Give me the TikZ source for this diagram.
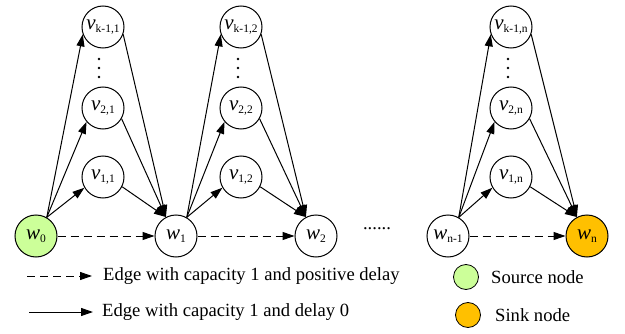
\documentclass[tikz,border=0pt]{standalone}
\usepackage{fontspec}
\setmainfont{Liberation Serif}
\usetikzlibrary{arrows.meta}
\newcommand{\nlab}[2]{{\fontsize{21}{22}\selectfont\textit{#1}}\raisebox{-3.5pt}{\fontsize{11.5}{12}\selectfont #2}}
\tikzset{
  vertex/.style={circle,draw,line width=1pt,minimum size=42pt,inner sep=0pt},
  keynode/.style={circle,draw,line width=0.8pt,minimum size=25pt,inner sep=0pt},
  keytext/.style={anchor=west,inner sep=0pt,font=\fontsize{18.6}{20}\selectfont},
  arc/.style={line width=1pt,-{Triangle[length=12pt,width=8pt]}},
  delayarc/.style={arc,dash pattern=on 8pt off 5pt},
}
\begin{document}
\begin{tikzpicture}[x=1pt,y=1pt]
\definecolor{fillColor}{RGB}{255,255,255}
\definecolor{srcColor}{RGB}{204,255,153}
\definecolor{sinkColor}{RGB}{255,192,0}
\path[use as bounding box,fill=fillColor] (0,0) rectangle (625,333);

% bottom row
\node[vertex,fill=srcColor] (w0) at (36,97) {\nlab{w}{0}};
\node[vertex] (w1) at (176,97) {\nlab{w}{1}};
\node[vertex] (w2) at (316,97) {\nlab{w}{2}};
\node[vertex] (wn1) at (448,97) {\nlab{w}{n-1}};
\node[vertex,fill=sinkColor] (wn) at (587,97) {\nlab{w}{n}};
\node[anchor=base,inner sep=0pt,font=\fontsize{18.6}{20}\selectfont] (gap) at (377,104) {......};

% first column
\node[vertex] (v11) at (103,156) {\nlab{v}{1,1}};
\node[vertex] (v21) at (103,225) {\nlab{v}{2,1}};
\node[vertex] (vk1) at (103,306) {\nlab{v}{k-1,1}};
\coordinate (d1) at (99,265);

% second column
\node[vertex] (v12) at (241,156) {\nlab{v}{1,2}};
\node[vertex] (v22) at (241,225) {\nlab{v}{2,2}};
\node[vertex] (vk2) at (241,306) {\nlab{v}{k-1,2}};
\coordinate (d2) at (238,265);

% last column
\node[vertex] (v1n) at (511,156) {\nlab{v}{1,n}};
\node[vertex] (v2n) at (511,225) {\nlab{v}{2,n}};
\node[vertex] (vkn) at (511,306) {\nlab{v}{k-1,n}};
\coordinate (dn) at (508,265);

% vertical dots
\fill (d1) circle (1.3) ++(0,9) circle (1.3) ++(0,-18) circle (1.3);
\fill (d2) circle (1.3) ++(0,9) circle (1.3) ++(0,-18) circle (1.3);
\fill (dn) circle (1.3) ++(0,9) circle (1.3) ++(0,-18) circle (1.3);

% edges w0 -> w1
\draw[arc] (w0.60) -- (v11.210);
\draw[arc] (w0.60) -- (v21.220);
\draw[arc] (w0.60) -- (vk1.200);
\draw[arc] (v11.-27) -- (w1.118);
\draw[arc] (v21.-30) -- (w1.118);
\draw[arc] (vk1.-20) -- (w1.118);
\draw[delayarc] (w0) -- (w1);

% edges w1 -> w2
\draw[arc] (w1.60) -- (v12.210);
\draw[arc] (w1.60) -- (v22.220);
\draw[arc] (w1.60) -- (vk2.200);
\draw[arc] (v12.-27) -- (w2.118);
\draw[arc] (v22.-30) -- (w2.118);
\draw[arc] (vk2.-20) -- (w2.118);
\draw[delayarc] (w1) -- (w2);

% edges wn-1 -> wn
\draw[arc] (wn1.60) -- (v1n.210);
\draw[arc] (wn1.60) -- (v2n.220);
\draw[arc] (wn1.60) -- (vkn.200);
\draw[arc] (v1n.-27) -- (wn.118);
\draw[arc] (v2n.-30) -- (wn.118);
\draw[arc] (vkn.-20) -- (wn.118);
\draw[delayarc] (wn1) -- (wn);

% legend
\coordinate (dashA) at (27,57);
\coordinate (dashB) at (92,57);
\coordinate (lineA) at (29,21);
\coordinate (lineB) at (93,21);
\draw[delayarc] (dashA) -- (dashB);
\draw[arc] (lineA) -- (lineB);
\node[keytext] (dashText) at (103,57) {Edge with capacity 1 and positive delay};
\node[keytext] (lineText) at (102,21) {Edge with capacity 1 and delay 0};
\node[keynode,fill=srcColor] (srcKey) at (466,56) {};
\node[keynode,fill=sinkColor] (sinkKey) at (468,18) {};
\node[keytext] (srcText) at (491,56) {Source node};
\node[keytext] (sinkText) at (495,18) {Sink node};
\end{tikzpicture}
\end{document}
